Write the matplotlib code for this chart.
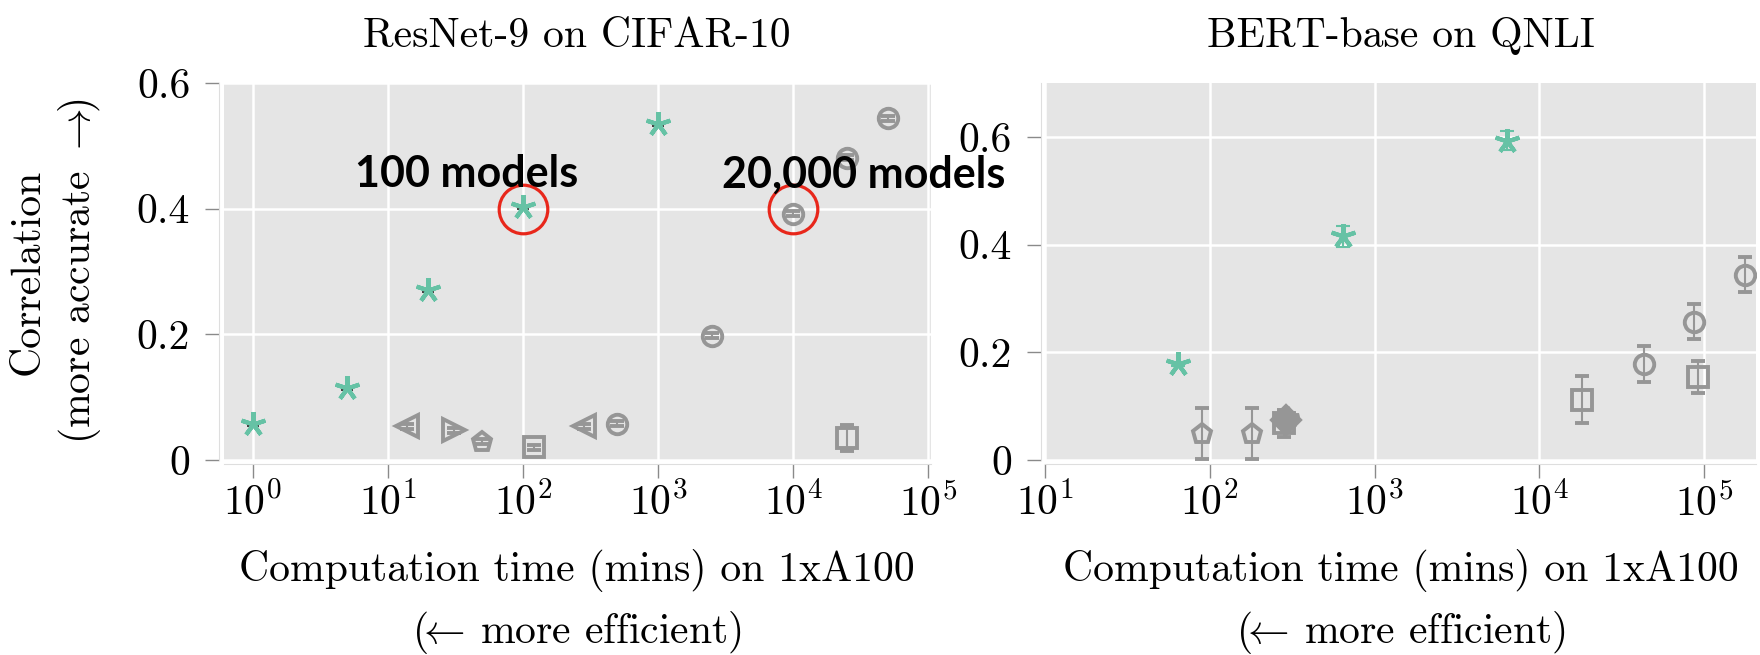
import matplotlib
matplotlib.use('Agg')
import matplotlib.pyplot as plt
from matplotlib.ticker import NullLocator

plt.rcParams['font.family'] = 'cmr10'
plt.rcParams['mathtext.fontset'] = 'cm'
plt.rcParams['axes.formatter.use_mathtext'] = True

# ---- ResNet-9 on CIFAR-10 ----
resnet_star_x = [1, 5, 20, 100, 1000]
resnet_star_y = [0.057, 0.115, 0.27, 0.402, 0.535]
resnet_star_err = [0.003, 0.003, 0.003, 0.003, 0.003]

resnet_other_x = [14, 31, 50, 120, 284, 500, 2500, 10000, 25000, 50000, 25000]
resnet_other_y = [0.054, 0.047, 0.029, 0.020, 0.054, 0.058, 0.198, 0.392, 0.481, 0.544, 0.035]
resnet_other_err = [0.004, 0.004, 0.004, 0.004, 0.004, 0.004, 0.004, 0.004, 0.004, 0.004, 0.021]

# ---- BERT-base on QNLI ----
bert_star_x = [64, 640, 6400]
bert_star_y = [0.178, 0.415, 0.593]
bert_star_err = [0.004, 0.02, 0.018]

bert_other_x = [90, 180, 280, 290, 300, 18100, 43300, 86300, 91400, 177000]
bert_other_y = [0.049, 0.049, 0.068, 0.075, 0.078, 0.112, 0.178, 0.257, 0.154, 0.344]
bert_other_err = [0.047, 0.048, 0.025, 0.01, 0.01, 0.0435, 0.034, 0.033, 0.030, 0.032]

left_xticks = [1e0, 1e1, 1e2, 1e3, 1e4, 1e5]
right_xticks = [1e1, 1e2, 1e3, 1e4, 1e5]
yticks = [0, 0.2, 0.4, 0.6]
ytick_labels = ['0', '0.2', '0.4', '0.6']

# marker per gray point
resnet_markers = ['<', '>', 'p', 's', '<', 'o', 'o', 'o', 'o', 'o', 's']
bert_markers = ['p', 'p', 's', 'D', '*', 's', 'o', 'o', 's', 'o']

GREEN = '#66c2a5'
GRAY = '#969696'
STAR = (5, 2, 0)


def style(ax, xticks, xlim, ylim):
    ax.set_facecolor('#e5e5e5')
    ax.set_xscale('log')
    ax.set_xticks(xticks)
    ax.xaxis.set_minor_locator(NullLocator())
    ax.set_yticks(yticks)
    ax.set_yticklabels(ytick_labels)
    ax.set_xlim(*xlim)
    ax.set_ylim(*ylim)
    ax.grid(True, color='white', linewidth=1.8)
    ax.set_axisbelow(True)
    for s in ['top', 'right']:
        ax.spines[s].set_visible(False)
    for s in ['left', 'bottom']:
        ax.spines[s].set_color('#dedede')
        ax.spines[s].set_position(('outward', 3))
    ax.tick_params(direction='out', length=10, width=1, color='#8a8a8a', labelsize=30)
    ax.tick_params(axis='y', pad=11)
    ax.tick_params(axis='x', pad=3)
    ax.set_xlabel('Computation time (mins) on 1xA100\n($\\!\\!\\leftarrow\\!$ more efficient)',
                  fontsize=30, linespacing=1.52, labelpad=18)


def draw_others(ax, xs, ys, es, markers):
    for x, y, e, m in zip(xs, ys, es, markers):
        filled = m in ('*', 'D')
        size = 16 if m in ('<', '>', '*') else 14
        ax.errorbar([x], [y], yerr=[e], fmt=m, ms=size,
                    mfc=GRAY if filled else 'none', mec=GRAY, mew=2.8,
                    ecolor=GRAY, elinewidth=1.5, capsize=5, capthick=1.5, zorder=3)


fig = plt.figure(figsize=(17.6, 6.55), dpi=100)
ax1 = fig.add_axes([0.127, 0.2977, 0.402, 0.5756])
ax2 = fig.add_axes([0.5938, 0.2977, 0.404, 0.5756])

style(ax1, left_xticks, (10 ** -0.215, 10 ** 5.02), (0, 0.6))
style(ax2, right_xticks, (10, 10 ** 5.316), (0, 0.7))

draw_others(ax1, resnet_other_x, resnet_other_y, resnet_other_err, resnet_markers)
ax1.errorbar(resnet_star_x, resnet_star_y, yerr=resnet_star_err, fmt='none',
             ecolor='#222222', elinewidth=1, capsize=4, capthick=1.2, zorder=3)
ax1.plot(resnet_star_x, resnet_star_y, linestyle='none', marker=STAR, ms=18,
         mec=GREEN, mew=3, zorder=4)

draw_others(ax2, bert_other_x, bert_other_y, bert_other_err, bert_markers)
ax2.errorbar(bert_star_x, bert_star_y, yerr=bert_star_err, fmt='none',
             ecolor=GREEN, elinewidth=1.5, capsize=5, capthick=1.5, zorder=3)
ax2.plot(bert_star_x, bert_star_y, linestyle='none', marker=STAR, ms=18,
         mec=GREEN, mew=3, zorder=4)

# highlighted points: 100 models and 20,000 models
hl_x = [resnet_star_x[3], resnet_other_x[7]]
hl_y = [0.40, 0.40]
ax1.plot(hl_x, hl_y, linestyle='none', marker='o', ms=35, mfc='none',
         mec='#e8271b', mew=2.3, zorder=5)
ax1.text(10 ** 1.583, 0.434, '100 models', ha='center', va='baseline',
         fontsize=31, fontweight='bold', family='Lato', zorder=6)
ax1.text(10 ** 4.522, 0.434, '20,000 models', ha='center', va='baseline',
         fontsize=31, fontweight='bold', family='Lato', zorder=6, clip_on=False)

ax1.set_title('ResNet-9 on CIFAR-10', fontsize=30, pad=26)
ax2.set_title('BERT-base on QNLI', fontsize=30, pad=26)
ax1.set_ylabel('Correlation\n(more accurate $\\rightarrow\\!\\!$)', fontsize=30,
               linespacing=1.3, labelpad=24)

fig.savefig('out.png', dpi=100)
